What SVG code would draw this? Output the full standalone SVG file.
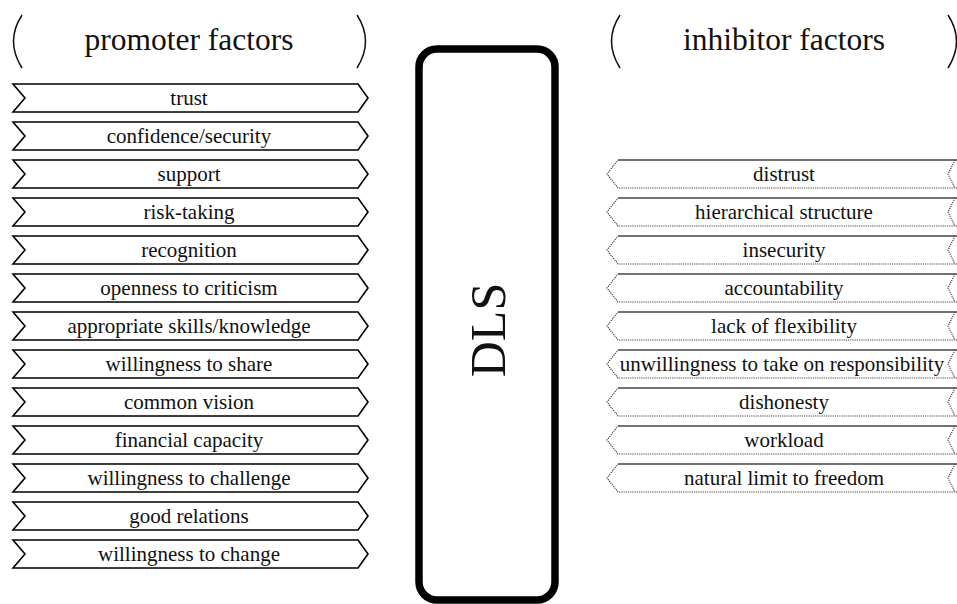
<svg xmlns="http://www.w3.org/2000/svg" width="957" height="604" viewBox="0 0 957 604">
<style>
text{font-family:"Liberation Serif","Times New Roman",serif;fill:#111;text-anchor:middle}
.it{font-size:21px}
.ti{font-size:31.5px}
.pr{fill:none;stroke:#000;stroke-width:1.6;stroke-linejoin:miter}
.inT{fill:none;stroke:#444;stroke-width:1.3}
.inD{fill:none;stroke:#444;stroke-width:1.2;stroke-dasharray:1.2 1}
.par{fill:none;stroke:#111;stroke-width:1.5}
</style>
<rect width="957" height="604" fill="#fff"/>
<g id="title-promoter">
<path class="par" d="M22,15 Q5,41 22,68"/>
<path class="par" d="M357,15 Q374,41 357,68"/>
<text class="ti" x="189" y="50">promoter factors</text>
</g>
<g id="title-inhibitor">
<path class="par" d="M620,15 Q603,41 620,68"/>
<path class="par" d="M948,15 Q965,41 948,68"/>
<text class="ti" x="784" y="50">inhibitor factors</text>
</g>
<g id="dls">
<rect x="419" y="49" width="136" height="551" rx="18" ry="18" fill="none" stroke="#000" stroke-width="7.5"/>
<text transform="translate(505,330) rotate(-90)" x="0" y="0" style="font-size:50px">DLS</text>
</g>
<g id="promoters">
<g id="p1"><path class="pr" d="M13,84 L358,84 L368,98 L358,112 L13,112 L25,98 Z"/><text class="it" x="189" y="105">trust</text></g>
<g id="p2"><path class="pr" d="M13,122 L358,122 L368,136 L358,150 L13,150 L25,136 Z"/><text class="it" x="189" y="143">confidence/security</text></g>
<g id="p3"><path class="pr" d="M13,160 L358,160 L368,174 L358,188 L13,188 L25,174 Z"/><text class="it" x="189" y="181">support</text></g>
<g id="p4"><path class="pr" d="M13,198 L358,198 L368,212 L358,226 L13,226 L25,212 Z"/><text class="it" x="189" y="219">risk-taking</text></g>
<g id="p5"><path class="pr" d="M13,236 L358,236 L368,250 L358,264 L13,264 L25,250 Z"/><text class="it" x="189" y="257">recognition</text></g>
<g id="p6"><path class="pr" d="M13,274 L358,274 L368,288 L358,302 L13,302 L25,288 Z"/><text class="it" x="189" y="295">openness to criticism</text></g>
<g id="p7"><path class="pr" d="M13,312 L358,312 L368,326 L358,340 L13,340 L25,326 Z"/><text class="it" x="189" y="333">appropriate skills/knowledge</text></g>
<g id="p8"><path class="pr" d="M13,350 L358,350 L368,364 L358,378 L13,378 L25,364 Z"/><text class="it" x="189" y="371">willingness to share</text></g>
<g id="p9"><path class="pr" d="M13,388 L358,388 L368,402 L358,416 L13,416 L25,402 Z"/><text class="it" x="189" y="409">common vision</text></g>
<g id="p10"><path class="pr" d="M13,426 L358,426 L368,440 L358,454 L13,454 L25,440 Z"/><text class="it" x="189" y="447">financial capacity</text></g>
<g id="p11"><path class="pr" d="M13,464 L358,464 L368,478 L358,492 L13,492 L25,478 Z"/><text class="it" x="189" y="485">willingness to challenge</text></g>
<g id="p12"><path class="pr" d="M13,502 L358,502 L368,516 L358,530 L13,530 L25,516 Z"/><text class="it" x="189" y="523">good relations</text></g>
<g id="p13"><path class="pr" d="M13,540 L358,540 L368,554 L358,568 L13,568 L25,554 Z"/><text class="it" x="189" y="561">willingness to change</text></g>
</g>
<g id="inhibitors">
<g id="i1"><path class="inT" d="M618,160 L957,160"/><path class="inD" d="M957,188 L618,188 L607,174 L618,160 M955,160 L948,174 L955,188"/><text class="it" x="784" y="181">distrust</text></g>
<g id="i2"><path class="inT" d="M618,198 L957,198"/><path class="inD" d="M957,226 L618,226 L607,212 L618,198 M955,198 L948,212 L955,226"/><text class="it" x="784" y="219">hierarchical structure</text></g>
<g id="i3"><path class="inT" d="M618,236 L957,236"/><path class="inD" d="M957,264 L618,264 L607,250 L618,236 M955,236 L948,250 L955,264"/><text class="it" x="784" y="257">insecurity</text></g>
<g id="i4"><path class="inT" d="M618,274 L957,274"/><path class="inD" d="M957,302 L618,302 L607,288 L618,274 M955,274 L948,288 L955,302"/><text class="it" x="784" y="295">accountability</text></g>
<g id="i5"><path class="inT" d="M618,312 L957,312"/><path class="inD" d="M957,340 L618,340 L607,326 L618,312 M955,312 L948,326 L955,340"/><text class="it" x="784" y="333">lack of flexibility</text></g>
<g id="i6"><path class="inT" d="M618,350 L957,350"/><path class="inD" d="M957,378 L618,378 L607,364 L618,350 M955,350 L948,364 L955,378"/><text class="it" x="782" y="371">unwillingness to take on responsibility</text></g>
<g id="i7"><path class="inT" d="M618,388 L957,388"/><path class="inD" d="M957,416 L618,416 L607,402 L618,388 M955,388 L948,402 L955,416"/><text class="it" x="784" y="409">dishonesty</text></g>
<g id="i8"><path class="inT" d="M618,426 L957,426"/><path class="inD" d="M957,454 L618,454 L607,440 L618,426 M955,426 L948,440 L955,454"/><text class="it" x="784" y="447">workload</text></g>
<g id="i9"><path class="inT" d="M618,464 L957,464"/><path class="inD" d="M957,492 L618,492 L607,478 L618,464 M955,464 L948,478 L955,492"/><text class="it" x="784" y="485">natural limit to freedom</text></g>
</g>
</svg>
